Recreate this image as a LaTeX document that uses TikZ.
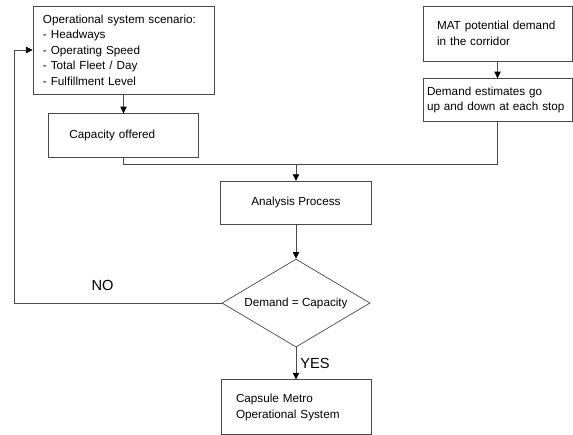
\documentclass[tikz,border=0pt]{standalone}
\usepackage{fontspec}
\setmainfont{Liberation Sans}
\usepackage{tikz}
\usetikzlibrary{arrows.meta,positioning,shapes.geometric}
\definecolor{linegray}{HTML}{4A4A4A}

\begin{document}
\begin{tikzpicture}[
 x=0.03cm, y=-0.03cm,
 box/.style={rectangle,draw=linegray,line width=0.6pt,align=left,font=\fontsize{10}{13.2}\selectfont},
 dec/.style={diamond,draw=linegray,line width=0.6pt,aspect=1.68,inner sep=0pt,minimum width=4.44cm,minimum height=2.64cm,font=\fontsize{10}{13.2}\selectfont},
 arr/.style={-{Triangle[length=2mm,width=1.9mm,color=black]},draw=linegray,line width=0.6pt},
 line/.style={draw=linegray,line width=0.6pt},
 lbl/.style={font=\fontsize{12.5}{14}\selectfont}
]
\useasboundingbox (0,0) rectangle (573,434);
\node[box,text width=4.83cm,inner xsep=0.3cm,minimum height=2.64cm] (scen) at (123.5,50) {Operational system scenario:\\- Headways\\- Operating Speed\\- Total Fleet / Day\\- Fulfillment Level};
\node[box,text width=3.24cm,inner xsep=0.63cm,minimum height=1.32cm,below=0.57cm of scen] (cap) {Capacity offered};
\node[box,text width=3.63cm,inner xsep=0.42cm,minimum height=1.65cm] (mat) at (497.5,33.5) {MAT potential demand\\in the corridor};
\node[box,text width=4.23cm,inner xsep=0.12cm,minimum height=1.29cm,below=0.51cm of mat] (dem) {Demand estimates go\\up and down at each stop};
\coordinate (join) at (296,164);
\node[box,align=center,minimum width=4.53cm,minimum height=1.29cm,below=0.51cm of join] (ana) {Analysis Process};
\node[dec,below=1.02cm of ana] (eq) {Demand = Capacity};
\node[box,text width=3.6cm,inner xsep=0.45cm,minimum height=1.65cm,below=0.96cm of eq] (out) {Capsule Metro\\Operational System};

\draw[arr] (scen)--(cap); \draw[arr] (mat)--(dem);
\draw[line] (cap.south) |- (join); \draw[line] (dem.south) |- (join);
\draw[arr] (join)--(ana); \draw[arr] (ana)--(eq);
\draw[arr] (eq)--node[right,lbl]{YES}(out);
\draw[arr] (eq.west) -- node[pos=0.575,above=0.25cm,lbl]{NO} ++(-207,0) |- (scen.west);
\end{tikzpicture}
\end{document}
